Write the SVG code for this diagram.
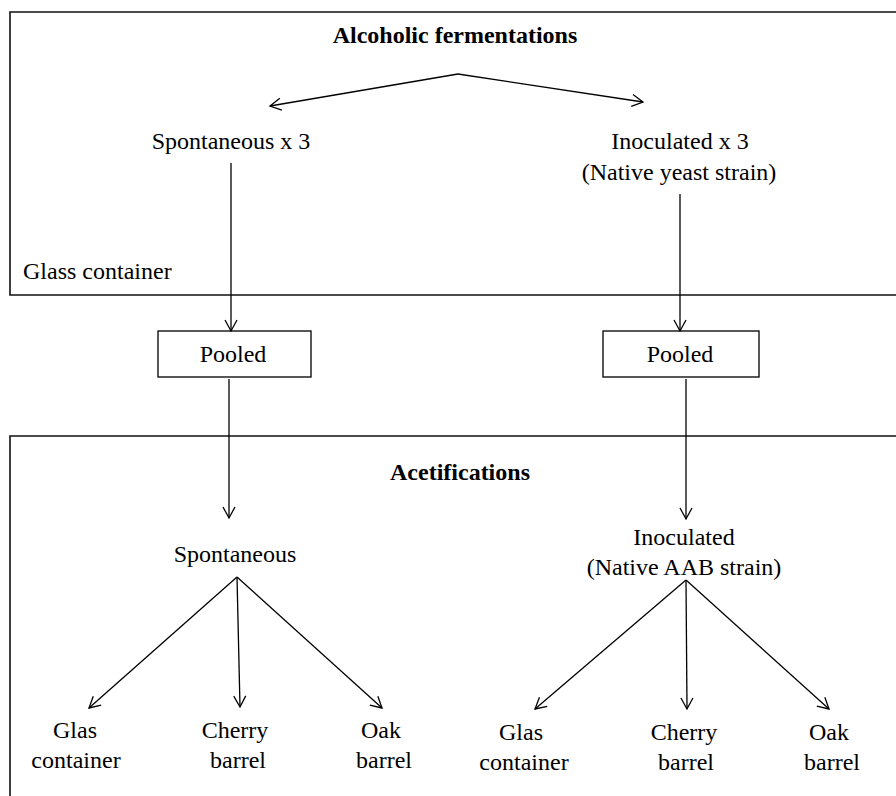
<svg xmlns="http://www.w3.org/2000/svg" width="896" height="796" viewBox="0 0 896 796">
<style>
text{font-size:24px;fill:#000;text-anchor:middle}
.b{font-weight:bold}
.l{text-anchor:start}
.frame{fill:none;stroke:#111;stroke-width:1.6}
.box{fill:#fff;stroke:#111;stroke-width:1.4}
.c{fill:none;stroke:#000;stroke-width:1.3;marker-end:url(#arr)}
</style>
<defs>
<marker id="arr" markerUnits="userSpaceOnUse" markerWidth="20" markerHeight="20" viewBox="-12 -10 14 20" refX="0" refY="0" orient="auto">
<path d="M-11,-6 L0,0 L-11,6" fill="none" stroke="#000" stroke-width="1.3"/>
</marker>
</defs>
<g font-family="Liberation Serif, Times New Roman, serif">
<g id="fermentation-frame">
<path class="frame" d="M897,12 H10 V295 H897"/>
<text class="b" x="455" y="43">Alcoholic fermentations</text>
<text class="l" x="23" y="279">Glass container</text>
</g>
<g id="acetification-frame">
<path class="frame" d="M897,436 H10 V797"/>
<text class="b" x="460" y="480">Acetifications</text>
</g>
<g id="spont-ferm"><text x="231" y="149">Spontaneous x 3</text></g>
<g id="inoc-ferm"><text x="680" y="149">Inoculated x 3</text><text x="679" y="180">(Native yeast strain)</text></g>
<g id="pooled-left"><rect class="box" x="158" y="331" width="153" height="46"/><text x="233" y="362">Pooled</text></g>
<g id="pooled-right"><rect class="box" x="603" y="331" width="156" height="46"/><text x="680" y="362">Pooled</text></g>
<g id="spont-acet"><text x="235" y="562">Spontaneous</text></g>
<g id="inoc-acet"><text x="684" y="545">Inoculated</text><text x="684" y="575">(Native AAB strain)</text></g>
<g id="l-glas"><text x="75" y="738">Glas</text><text x="76" y="768">container</text></g>
<g id="l-cherry"><text x="235" y="738">Cherry</text><text x="238" y="768">barrel</text></g>
<g id="l-oak"><text x="381" y="738">Oak</text><text x="384" y="768">barrel</text></g>
<g id="r-glas"><text x="521" y="740">Glas</text><text x="524" y="770">container</text></g>
<g id="r-cherry"><text x="684" y="740">Cherry</text><text x="686" y="770">barrel</text></g>
<g id="r-oak"><text x="829" y="740">Oak</text><text x="832" y="770">barrel</text></g>
</g>
<g id="connectors">
<line class="c" x1="458" y1="74" x2="270" y2="106"/>
<line class="c" x1="458" y1="74" x2="643" y2="102"/>
<line class="c" x1="231" y1="163" x2="231" y2="331"/>
<line class="c" x1="680" y1="194" x2="680" y2="331"/>
<line class="c" x1="229" y1="379" x2="229" y2="518"/>
<line class="c" x1="686" y1="379" x2="686" y2="519"/>
<line class="c" x1="237" y1="577" x2="89" y2="708"/>
<line class="c" x1="237" y1="577" x2="240" y2="707"/>
<line class="c" x1="237" y1="577" x2="382" y2="708"/>
<line class="c" x1="686" y1="580" x2="535" y2="709"/>
<line class="c" x1="686" y1="580" x2="687" y2="709"/>
<line class="c" x1="686" y1="580" x2="829" y2="709"/>
</g>
</svg>
